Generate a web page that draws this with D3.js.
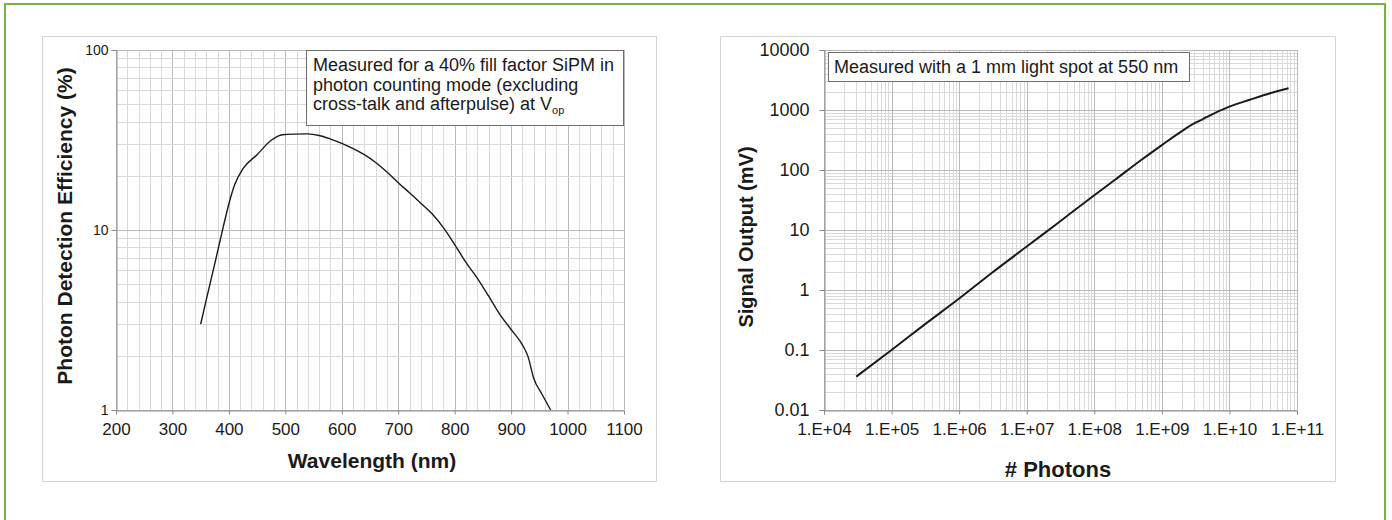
<!DOCTYPE html>
<html>
<head>
<meta charset="utf-8">
<script src="https://cdn.jsdelivr.net/npm/d3@7"></script>
<style>
  body { margin: 0; background: #fff; }
  text { font-family: "Liberation Sans", Arial, sans-serif; fill: #1a1a1a; }
</style>
</head>
<body>
<svg id="chart" width="1392" height="520"></svg>
<script>
// left chart: photon detection efficiency vs wavelength
var wavelength = [350, 360, 375, 390, 400, 410, 425, 450, 475, 495, 515, 540, 560, 580, 600, 620, 640, 660, 680, 700,
                  720, 740, 760, 780, 800, 820, 840, 860, 880, 900, 920, 930, 940, 955, 970]
var pde = [3.0, 4.1, 6.5, 10.4, 14.0, 17.8, 21.9, 26.2, 31.5, 33.8, 34.1, 34.2, 33.5, 32.0, 30.3, 28.3, 26.2, 23.7, 21.0, 18.3,
           16.1, 14.1, 12.3, 10.3, 8.3, 6.6, 5.4, 4.3, 3.4, 2.8, 2.3, 1.98, 1.5, 1.22, 1.0]
var wlTicks = [200, 300, 400, 500, 600, 700, 800, 900, 1000, 1100]
var pdeTicks = [1, 10, 100]

// right chart: signal output vs number of photons
var photons = [3e4, 1e5, 3e5, 1e6, 3e6, 1e7, 3e7, 1e8, 2e8, 5e8, 1e9, 2e9, 3e9, 4e9, 5e9, 1e10, 2e10, 4e10, 7.5e10]
var signal = [0.036, 0.10, 0.26, 0.72, 1.9, 5.3, 13.5, 38, 68, 148, 260, 450, 600, 700, 800, 1140, 1480, 1900, 2300]
var photonTicks = [1e4, 1e5, 1e6, 1e7, 1e8, 1e9, 1e10, 1e11]
var photonTickLabels = ["1.E+04", "1.E+05", "1.E+06", "1.E+07", "1.E+08", "1.E+09", "1.E+10", "1.E+11"]
var signalTicks = [0.01, 0.1, 1, 10, 100, 1000, 10000]
var signalTickLabels = ["0.01", "0.1", "1", "10", "100", "1000", "10000"]

var svg = d3.select("#chart")

// green outer frame
svg.append("rect")
  .attr("x", 5).attr("y", 4)
  .attr("width", 1380).attr("height", 530)
  .attr("fill", "none")
  .attr("stroke", "#77b347")
  .attr("stroke-width", 2)

// chart frames
svg.append("rect").attr("x", 42.5).attr("y", 36.5).attr("width", 614).attr("height", 445)
  .attr("fill", "#fff").attr("stroke", "#d4d4d4")
svg.append("rect").attr("x", 720.5).attr("y", 36.5).attr("width", 615).attr("height", 445)
  .attr("fill", "#fff").attr("stroke", "#d4d4d4")

var minorCol = "#d9d9d9", majorCol = "#bababa"

function logMinor(lo, hi) {
  var out = []
  for (var p = lo; p < hi; p++) {
    for (var k = 2; k <= 9; k++) out.push(k * Math.pow(10, p))
  }
  return out
}

// ---------- left chart ----------
var xL = d3.scaleLinear().domain([200, 1100]).range([116, 624])
var yL = d3.scaleLog().domain([1, 100]).range([410, 50])

var gL = svg.append("g")

gL.selectAll(".vminor")
  .data(d3.range(200, 1101, 20))
  .enter().append("line")
  .attr("x1", function(d){ return Math.round(xL(d)) + 0.5 })
  .attr("x2", function(d){ return Math.round(xL(d)) + 0.5 })
  .attr("y1", yL(100)).attr("y2", yL(1))
  .attr("stroke", function(d){ return d % 100 == 0 ? majorCol : minorCol })

gL.selectAll(".hminor")
  .data(logMinor(0, 2))
  .enter().append("line")
  .attr("x1", xL(200)).attr("x2", xL(1100))
  .attr("y1", function(d){ return Math.round(yL(d)) + 0.5 })
  .attr("y2", function(d){ return Math.round(yL(d)) + 0.5 })
  .attr("stroke", minorCol)

gL.selectAll(".hmajor")
  .data(pdeTicks)
  .enter().append("line")
  .attr("x1", xL(200)).attr("x2", xL(1100))
  .attr("y1", function(d){ return Math.round(yL(d)) + 0.5 })
  .attr("y2", function(d){ return Math.round(yL(d)) + 0.5 })
  .attr("stroke", majorCol)

var axL = gL.append("g")
  .attr("transform", "translate(0," + (Math.round(yL(1)) + 0.5) + ")")
  .call(d3.axisBottom(xL).tickValues(wlTicks).tickFormat(d3.format("d")).tickSize(4).tickPadding(8))
var ayL = gL.append("g")
  .attr("transform", "translate(" + (Math.round(xL(200)) + 0.5) + ",0)")
  .call(d3.axisLeft(yL).tickValues(pdeTicks).tickFormat(d3.format("d")).tickSize(5).tickPadding(3))
axL.selectAll("text").attr("font-size", "17px").attr("font-family", "Liberation Sans, Arial, sans-serif")
ayL.selectAll("text").attr("font-size", "14px").attr("font-family", "Liberation Sans, Arial, sans-serif")
gL.selectAll(".domain, .tick line").attr("stroke", "#8c8c8c")
gL.selectAll(".tick text").attr("fill", "#1a1a1a")

var lineL = d3.line()
  .x(function(d, i){ return xL(wavelength[i]) })
  .y(function(d){ return yL(d) })
  .curve(d3.curveMonotoneX)

gL.append("path")
  .datum(pde)
  .attr("d", lineL)
  .attr("fill", "none")
  .attr("stroke", "#1a1a1a")
  .attr("stroke-width", 1.4)

// note box
gL.append("rect").attr("x", 306.5).attr("y", 50.5).attr("width", 317).attr("height", 75)
  .attr("fill", "#fff").attr("stroke", "#6e6e6e")
var noteL = ["Measured for a 40% fill factor SiPM in", "photon counting mode (excluding", "cross-talk and afterpulse) at V"]
gL.selectAll(".noteL")
  .data(noteL)
  .enter().append("text")
  .attr("x", 313)
  .attr("y", function(d, i){ return 71 + i * 19.5 })
  .attr("font-size", "18px")
  .text(function(d){ return d })
  .filter(function(d, i){ return i == 2 })
  .append("tspan")
  .attr("font-size", "11px")
  .attr("dy", 4)
  .text("op")

gL.append("text")
  .attr("x", 372).attr("y", 468)
  .attr("text-anchor", "middle")
  .attr("font-size", "21px").attr("font-weight", "bold")
  .text("Wavelength (nm)")
gL.append("text")
  .attr("transform", "translate(72,226) rotate(-90)")
  .attr("text-anchor", "middle")
  .attr("font-size", "21px").attr("font-weight", "bold")
  .text("Photon Detection Efficiency (%)")

// ---------- right chart ----------
var xR = d3.scaleLog().domain([1e4, 1e11]).range([824, 1297])
var yR = d3.scaleLog().domain([0.01, 10000]).range([410, 50])

var gR = svg.append("g")

gR.selectAll(".vminor")
  .data(logMinor(4, 11))
  .enter().append("line")
  .attr("x1", function(d){ return Math.round(xR(d)) + 0.5 })
  .attr("x2", function(d){ return Math.round(xR(d)) + 0.5 })
  .attr("y1", yR(10000)).attr("y2", yR(0.01))
  .attr("stroke", minorCol)
gR.selectAll(".hminor")
  .data(logMinor(-2, 4))
  .enter().append("line")
  .attr("x1", xR(1e4)).attr("x2", xR(1e11))
  .attr("y1", function(d){ return Math.round(yR(d)) + 0.5 })
  .attr("y2", function(d){ return Math.round(yR(d)) + 0.5 })
  .attr("stroke", minorCol)
gR.selectAll(".vmajor")
  .data(photonTicks)
  .enter().append("line")
  .attr("x1", function(d){ return Math.round(xR(d)) + 0.5 })
  .attr("x2", function(d){ return Math.round(xR(d)) + 0.5 })
  .attr("y1", yR(10000)).attr("y2", yR(0.01))
  .attr("stroke", majorCol)
gR.selectAll(".hmajor")
  .data(signalTicks)
  .enter().append("line")
  .attr("x1", xR(1e4)).attr("x2", xR(1e11))
  .attr("y1", function(d){ return Math.round(yR(d)) + 0.5 })
  .attr("y2", function(d){ return Math.round(yR(d)) + 0.5 })
  .attr("stroke", majorCol)

var axR = gR.append("g")
  .attr("transform", "translate(0," + (Math.round(yR(0.01)) + 0.5) + ")")
  .call(d3.axisBottom(xR).tickValues(photonTicks)
    .tickFormat(function(d, i){ return photonTickLabels[i] }).tickSize(4).tickPadding(8))
var ayR = gR.append("g")
  .attr("transform", "translate(" + (Math.round(xR(1e4)) + 0.5) + ",0)")
  .call(d3.axisLeft(yR).tickValues(signalTicks)
    .tickFormat(function(d, i){ return signalTickLabels[i] }).tickSize(5).tickPadding(10))
axR.selectAll("text").attr("font-size", "17px").attr("font-family", "Liberation Sans, Arial, sans-serif")
ayR.selectAll("text").attr("font-size", "18px").attr("font-family", "Liberation Sans, Arial, sans-serif")
gR.selectAll(".domain, .tick line").attr("stroke", "#8c8c8c")
gR.selectAll(".tick text").attr("fill", "#1a1a1a")

var lineR = d3.line()
  .x(function(d, i){ return xR(photons[i]) })
  .y(function(d){ return yR(d) })
  .curve(d3.curveMonotoneX)

gR.append("path")
  .datum(signal)
  .attr("d", lineR)
  .attr("fill", "none")
  .attr("stroke", "#1a1a1a")
  .attr("stroke-width", 2)

gR.append("rect").attr("x", 828.5).attr("y", 52.5).attr("width", 361).attr("height", 29)
  .attr("fill", "#fff").attr("stroke", "#6e6e6e")
gR.append("text")
  .attr("x", 834).attr("y", 73)
  .attr("font-size", "18px")
  .text("Measured with a 1 mm light spot at 550 nm")

gR.append("text")
  .attr("x", 1058).attr("y", 477)
  .attr("text-anchor", "middle")
  .attr("font-size", "22px").attr("font-weight", "bold")
  .text("# Photons")
gR.append("text")
  .attr("transform", "translate(753,237) rotate(-90)")
  .attr("text-anchor", "middle")
  .attr("font-size", "20px").attr("font-weight", "bold")
  .text("Signal Output (mV)")
</script>
</body>
</html>
